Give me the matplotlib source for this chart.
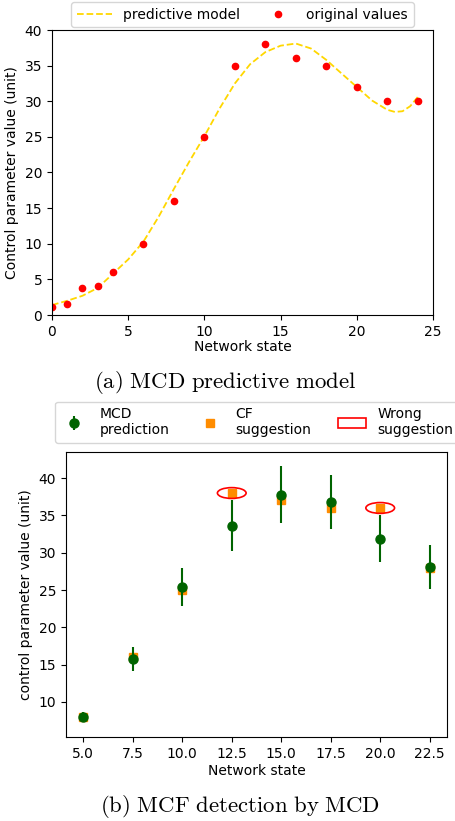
import numpy as np
import matplotlib.pyplot as plt
from matplotlib.patches import Ellipse
from matplotlib.lines import Line2D

plt.rcParams['mathtext.fontset'] = 'cm'

# (a) predictive model curve
model_x = [0, 1, 2, 3, 4, 5, 6, 7, 8, 9, 10, 11, 12, 13, 14, 15, 16, 17, 18,
           19, 20, 21, 22, 22.5, 23, 23.5, 24]
model_y = [1.4, 2.0, 2.7, 3.8, 5.8, 7.8, 10.3, 13.8, 17.7, 21.5, 25.1, 29.0,
           32.5, 35.2, 36.9, 37.8, 38.1, 37.4, 35.8, 33.9, 32.0, 30.1, 28.8,
           28.5, 28.6, 29.3, 30.6]

orig_x = [0, 1, 2, 3, 4, 6, 8, 10, 12, 14, 16, 18, 20, 22, 24]
orig_y = [1.1, 1.5, 3.8, 4.1, 6.0, 10, 16, 25, 35, 38, 36, 35, 32, 30, 30]

# (b) MCD prediction vs CF suggestion
state = [5.0, 7.5, 10.0, 12.5, 15.0, 17.5, 20.0, 22.5]
mcd_mean = [8.0, 15.8, 25.4, 33.6, 37.8, 36.8, 31.9, 28.1]
mcd_err = [0.6, 1.6, 2.5, 3.4, 3.8, 3.6, 3.2, 2.9]
cf_value = [8, 16, 25, 38, 37, 36, 36, 28]
wrong_x = [12.5, 20.0]
wrong_y = [38, 36]


def panel_a(fig):
    ax = fig.add_axes([52/455, 1-315/821, 381/455, 285/821])
    ax.plot(model_x, model_y, '--', color='gold', lw=1.3, label='predictive model')
    ax.plot(orig_x, orig_y, 'o', color='red', ms=4.5, label='original values')
    ax.set_xlim(0, 25)
    ax.set_ylim(0, 40)
    ax.set_xlabel('Network state', labelpad=1)
    ax.set_ylabel('Control parameter value (unit)')
    ax.legend(loc='lower center', bbox_to_anchor=(0.5, 1.0), ncol=2,
              borderaxespad=0.2, columnspacing=1.5, handlelength=2.5)
    fig.text(0.495, 1-382/821, r'$\mathrm{(a)\ MCD\ predictive\ model}$',
             ha='center', va='center', fontsize=16.4)


def panel_b(fig):
    ax = fig.add_axes([66/455, 1-737/821, 381/455, 285/821])
    ax.plot(state, cf_value, 's', color='darkorange', ms=6, zorder=2)
    ax.errorbar(state, mcd_mean, yerr=mcd_err, fmt='o', color='darkgreen',
                ms=6.5, elinewidth=1.5, zorder=3)
    for wx, wy in zip(wrong_x, wrong_y):
        ax.add_patch(Ellipse((wx, wy), 1.45, 1.45, fill=False, edgecolor='red',
                             lw=1.2, zorder=4))
    ax.set_xlim(4.125, 23.375)
    ax.set_ylim(5.3, 43.5)
    ax.set_xticks(state)
    ax.set_xlabel('Network state', labelpad=2)
    ax.set_ylabel('control parameter value (unit)')

    h_mcd = ax.errorbar([], [], yerr=[], fmt='o', color='darkgreen', ms=6.5,
                        elinewidth=1.5)
    h_cf = Line2D([], [], ls='none', marker='s', color='darkorange', ms=6)
    h_wrong = plt.Rectangle((0, 0), 1, 1, fill=False, edgecolor='red', lw=1.2)
    ax.legend([h_mcd, h_cf, h_wrong],
              ['MCD\nprediction', 'CF\nsuggestion', 'Wrong\nsuggestion'],
              loc='lower left', bbox_to_anchor=(55/455, 1-443/821),
              bbox_transform=fig.transFigure, borderaxespad=0, ncol=3,
              columnspacing=1.95, handlelength=2.0)
    fig.text(0.527, 1-806/821, r'$\mathrm{(b)\ MCF\ detection\ by\ MCD}$',
             ha='center', va='center', fontsize=16.4)


def main():
    fig = plt.figure(figsize=(4.55, 8.21), dpi=100)
    panel_a(fig)
    panel_b(fig)
    fig.savefig('out.png', dpi=100)


if __name__ == "__main__":
    main()
